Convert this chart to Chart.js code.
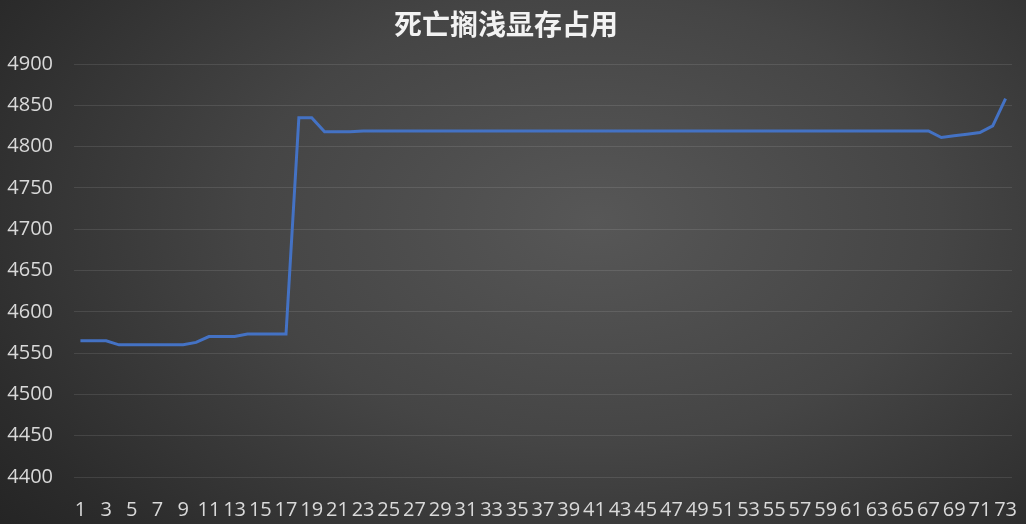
<!DOCTYPE html>
<html><head><meta charset="utf-8">
<script src="https://cdn.jsdelivr.net/npm/chart.js@4.4.0/dist/chart.umd.min.js"></script>
<style>
html,body{margin:0;padding:0;background:#262626;}
#wrap{position:relative;width:1026px;height:524px;background:radial-gradient(ellipse 75% 95% at 58% 42%, #575757 0%, #454545 45%, #2c2c2c 85%, #242424 100%);}
canvas{display:block;}
</style></head>
<body><div id="wrap"><canvas id="c" width="1026" height="524"></canvas></div>
<script>
const titleText = '死亡搁浅显存占用';
const categories = ['1','2','3','4','5','6','7','8','9','10','11','12','13','14','15','16','17','18','19','20','21','22','23','24','25','26','27','28','29','30','31','32','33','34','35','36','37','38','39','40','41','42','43','44','45','46','47','48','49','50','51','52','53','54','55','56','57','58','59','60','61','62','63','64','65','66','67','68','69','70','71','72','73'];
const memoryValues = [4565,4565,4565,4560,4560,4560,4560,4560,4560,4563,4570,4570,4570,4573,4573,4573,4573,4835,4835,4818,4818,4818,4819,4819,4819,4819,4819,4819,4819,4819,4819,4819,4819,4819,4819,4819,4819,4819,4819,4819,4819,4819,4819,4819,4819,4819,4819,4819,4819,4819,4819,4819,4819,4819,4819,4819,4819,4819,4819,4819,4819,4819,4819,4819,4819,4819,4819,4811,4813,4815,4817,4825,4858];
const yMin = 4400, yMax = 4900, yStep = 50;

const font = "'Open Sans', 'Noto Sans', sans-serif";
new Chart(document.getElementById('c'), {
  type: 'line',
  data: { labels: categories, datasets: [{ data: memoryValues, borderColor: '#4472C4', borderWidth: 3, pointRadius: 0, tension: 0, fill: false }] },
  options: {
    responsive: false, animation: false,
    layout: { padding: { left: 0, right: 14, top: 0, bottom: 0 } },
    plugins: {
      legend: { display: false },
      tooltip: { enabled: false },
      title: { display: true, text: titleText, color: '#f2f2f2',
        font: { family: "'Noto Sans CJK SC', sans-serif", size: 28, weight: 'bold', lineHeight: 1.2 },
        padding: { top: 8, bottom: 22.4 } }
    },
    scales: {
      x: { offset: true,
        grid: { display: true, drawOnChartArea: false, drawTicks: true, tickLength: 18, color: 'transparent', tickColor: 'transparent' },
        border: { display: false },
        afterFit: s => { s.height = 47; },
        ticks: { autoSkip: false, maxRotation: 0, minRotation: 0, padding: 3, color: '#d9d9d9',
          font: { family: font, size: 20 },
          callback: function(v, i) { return i % 2 === 0 ? categories[i] : ''; } } },
      y: { min: yMin, max: yMax,
        grid: { color: 'rgba(255,255,255,0.1)', lineWidth: 1, drawTicks: false }, border: { display: false },
        afterFit: s => { s.width = 74; },
        ticks: { stepSize: yStep, padding: 21, color: '#d9d9d9', font: { family: font, size: 20 },
          callback: v => String(v) } }
    }
  }
});
</script></body></html>
